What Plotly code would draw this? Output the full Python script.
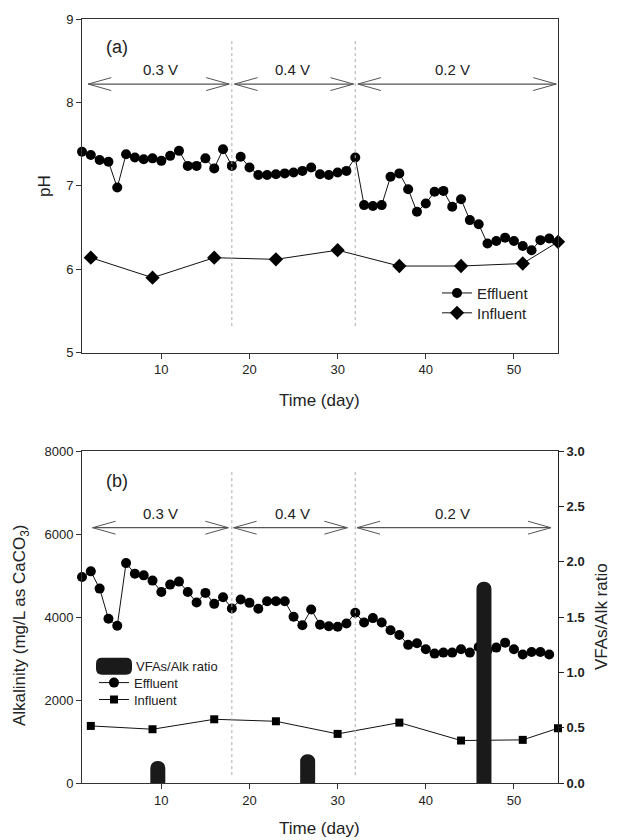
import plotly.graph_objects as go

# ---------------- data ----------------
days_eff_ph = list(range(1, 55))
ph_effluent = [7.41, 7.37, 7.31, 7.29, 6.98, 7.38, 7.34, 7.32, 7.33, 7.30,
               7.36, 7.42, 7.24, 7.24, 7.33, 7.21, 7.44, 7.24, 7.35, 7.22,
               7.13, 7.13, 7.14, 7.15, 7.16, 7.18, 7.22, 7.14, 7.13, 7.16,
               7.18, 7.34, 6.77, 6.76, 6.77, 7.11, 7.15, 6.96, 6.69, 6.79,
               6.93, 6.94, 6.75, 6.84, 6.59, 6.54, 6.31, 6.34, 6.38, 6.34,
               6.28, 6.23, 6.35, 6.37]
days_influent = [2, 9, 16, 23, 30, 37, 44, 51, 55]
ph_influent = [6.14, 5.90, 6.14, 6.12, 6.23, 6.04, 6.04, 6.07, 6.33]

days_eff_alk = list(range(1, 55))
alk_effluent = [4965, 5102, 4687, 3960, 3790, 5301, 5046, 5006, 4879, 4606,
                4783, 4855, 4606, 4352, 4583, 4319, 4479, 4208, 4424, 4343,
                4199, 4383, 4383, 4383, 4008, 3805, 4184, 3815, 3780, 3768,
                3845, 4104, 3870, 3975, 3870, 3681, 3570, 3330, 3370, 3224,
                3120, 3144, 3144, 3224, 3144, 3280, 3200, 3264, 3384, 3224,
                3096, 3160, 3160, 3096]
alk_influent = [1376, 1296, 1536, 1488, 1184, 1456, 1024, 1040, 1320]

ratio_days = [9.6, 26.6, 46.6]
ratio_values = [0.20, 0.26, 1.82]

phase_bounds = [18, 32]
phase_labels = ["0.3 V", "0.4 V", "0.2 V"]
phase_label_x = [9.9, 24.9, 43.0]
arrows_top = [(1.7, 17.7), (18.3, 31.8), (32.3, 54.8)]
arrows_bot = [(2.2, 17.6), (18.2, 31.1), (32.2, 54.2)]

FONT = "Liberation Sans, Arial, sans-serif"
W, H = 618, 840
ML, MR, MT, MB = 82, 60, 14, 57
PW = W - ML - MR
PH = H - MT - MB


def px(x):
    return (x - ML) / PW


def py(y):
    return (H - MB - y) / PH


top_dom = [py(350), 1.0]
bot_dom = [0.0, py(449)]

fig = go.Figure()

# ---------------- panel (a) ----------------
fig.add_trace(go.Scatter(
    x=days_eff_ph, y=ph_effluent, mode="lines+markers", name="Effluent",
    line=dict(color="#111111", width=1), cliponaxis=False,
    marker=dict(symbol="circle", size=10, color="#000000"),
    xaxis="x", yaxis="y", legend="legend"))
fig.add_trace(go.Scatter(
    x=days_influent, y=ph_influent, mode="lines+markers", name="Influent",
    line=dict(color="#111111", width=1), cliponaxis=False,
    marker=dict(symbol="diamond", size=11, color="#000000"),
    xaxis="x", yaxis="y", legend="legend5"))

# ---------------- panel (b) ----------------
fig.add_trace(go.Bar(
    x=ratio_days, y=ratio_values, name="VFAs/Alk ratio", width=1.7,
    marker=dict(color="#1a1a1a", line=dict(width=0)),
    xaxis="x2", yaxis="y3", legend="legend2"))
fig.add_trace(go.Scatter(
    x=days_eff_alk, y=alk_effluent, mode="lines+markers", name="Effluent",
    line=dict(color="#111111", width=1), cliponaxis=False,
    marker=dict(symbol="circle", size=10, color="#000000"),
    xaxis="x2", yaxis="y2", legend="legend3"))
fig.add_trace(go.Scatter(
    x=days_influent, y=alk_influent, mode="lines+markers", name="Influent",
    line=dict(color="#111111", width=1), cliponaxis=False,
    marker=dict(symbol="square", size=8, color="#000000"),
    xaxis="x2", yaxis="y2", legend="legend4"))

axis_common = dict(showline=True, linecolor="#333333", linewidth=1,
                   ticks="outside", ticklen=5, tickcolor="#333333",
                   showgrid=False, zeroline=False,
                   tickfont=dict(family=FONT, size=13, color="#222222"))


def leg(xp, yp, size):
    return dict(x=px(xp), y=py(yp), xanchor="left", yanchor="middle",
                bgcolor="rgba(0,0,0,0)", borderwidth=0,
                font=dict(family=FONT, size=size, color="#222222"),
                itemclick=False, itemdoubleclick=False)


fig.update_layout(
    width=W, height=H,
    margin=dict(l=ML, r=MR, t=MT, b=MB),
    paper_bgcolor="white", plot_bgcolor="white",
    font=dict(family=FONT, color="#222222"),
    barcornerradius=7,
    xaxis=dict(domain=[0, 1], anchor="y", range=[1, 55],
               tickvals=[10, 20, 30, 40, 50], mirror=True, **axis_common),
    yaxis=dict(domain=top_dom, anchor="x", range=[5, 9], dtick=1,
               mirror=True, **axis_common),
    xaxis2=dict(domain=[0, 1], anchor="y2", range=[1, 55],
                tickvals=[10, 20, 30, 40, 50], mirror=True, **axis_common),
    yaxis2=dict(domain=bot_dom, anchor="x2", range=[0, 8000], dtick=2000,
                **axis_common),
    yaxis3=dict(overlaying="y2", side="right", anchor="x2", range=[0, 3],
                dtick=0.5, tickformat=".1f", showline=True,
                linecolor="#222222", linewidth=1, ticks="outside", ticklen=5,
                tickcolor="#222222", showgrid=False, zeroline=False,
                tickfont=dict(family=FONT, size=13, color="#222222",
                              weight="bold")),
    legend=leg(437, 290, 15),
    legend5=leg(437, 310, 15),
    legend2=leg(96, 665, 13),
    legend3=leg(94, 682, 13),
    legend4=leg(94, 699, 13),
    showlegend=True,
)

shapes = []
annotations = []

ARROW_COLOR = "#555555"


def double_arrow(x0, x1, y, xref, yref, ux, uy, L=23, Wd=6.5):
    shapes.append(dict(type="line", xref=xref, yref=yref, x0=x0, x1=x1,
                       y0=y, y1=y, line=dict(color=ARROW_COLOR, width=1.2)))
    pl = (f"M {x0 + L*ux},{y + Wd*uy} L {x0},{y} L {x0 + L*ux},{y - Wd*uy}")
    pr = (f"M {x1 - L*ux},{y + Wd*uy} L {x1},{y} L {x1 - L*ux},{y - Wd*uy}")
    for p in (pl, pr):
        shapes.append(dict(type="path", xref=xref, yref=yref, path=p,
                           line=dict(color=ARROW_COLOR, width=1)))


# top panel decorations
ux_t, uy_t = 54 / 475, 4 / 336
for (a, b) in arrows_top:
    double_arrow(a, b, 8.22, "x", "y", ux_t, uy_t)
for xb in phase_bounds:
    shapes.append(dict(type="line", xref="x", yref="y", x0=xb, x1=xb,
                       y0=5.32, y1=8.77,
                       line=dict(color="#aaaaaa", width=1, dash="dot")))
for lab, lx in zip(phase_labels, phase_label_x):
    annotations.append(dict(x=lx, y=8.40, xref="x", yref="y", text=lab,
                            showarrow=False, xanchor="center",
                            yanchor="middle",
                            font=dict(family=FONT, size=15, color="#222222")))

# bottom panel decorations
ux_b, uy_b = 54 / 476, 8000 / 334
for (a, b) in arrows_bot:
    double_arrow(a, b, 6155, "x2", "y2", ux_b, uy_b)
for xb in phase_bounds:
    shapes.append(dict(type="line", xref="x2", yref="y2", x0=xb, x1=xb,
                       y0=190, y1=7545,
                       line=dict(color="#aaaaaa", width=1, dash="dot")))
for lab, lx in zip(phase_labels, phase_label_x):
    annotations.append(dict(x=lx, y=6500, xref="x2", yref="y2", text=lab,
                            showarrow=False, xanchor="center",
                            yanchor="middle",
                            font=dict(family=FONT, size=15, color="#222222")))


# big rounded legend key for the VFAs/Alk ratio bars
def rounded_rect(x0, y0, x1, y1, r):
    X0, X1 = px(x0), px(x1)
    Y0, Y1 = py(y1), py(y0)   # paper y grows upward
    rx, ry = r / PW, r / PH
    return (f"M {X0 + rx},{Y0} L {X1 - rx},{Y0} Q {X1},{Y0} {X1},{Y0 + ry} "
            f"L {X1},{Y1 - ry} Q {X1},{Y1} {X1 - rx},{Y1} "
            f"L {X0 + rx},{Y1} Q {X0},{Y1} {X0},{Y1 - ry} "
            f"L {X0},{Y0 + ry} Q {X0},{Y0} {X0 + rx},{Y0} Z")


shapes.append(dict(type="path", xref="paper", yref="paper",
                   path=rounded_rect(96, 657, 132, 674, 6),
                   fillcolor="#1a1a1a", line=dict(width=0), layer="above"))

# panel letters and titles
def note(xp, yp, text, size=17, angle=0):
    return dict(x=px(xp), y=py(yp), xref="paper", yref="paper", text=text,
                textangle=angle, showarrow=False, xanchor="center",
                yanchor="middle",
                font=dict(family=FONT, size=size, color="#222222"))


annotations += [
    note(117, 42, "(a)", 18),
    note(117, 479, "(b)", 18),
    note(45, 182, "pH", 17, -90),
    note(319.5, 398, "Time (day)"),
    note(21, 624, "Alkalinity (mg/L as CaCO<sub>3</sub>)", 17, -90),
    note(601, 616, "VFAs/Alk ratio", 17, -90),
    note(319.5, 829, "Time (day)"),
]

fig.update_layout(shapes=shapes, annotations=annotations)

fig.write_html("out.html")
